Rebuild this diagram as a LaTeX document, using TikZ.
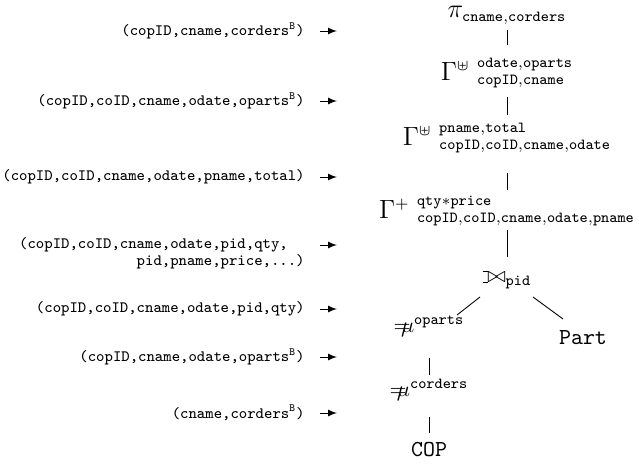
\documentclass[tikz,border=0pt]{standalone}
\DeclareMathSizes{13}{13}{7}{5}
\newcommand{\lojoinbar}{\setbox0=\hbox{$\bowtie$}\rule[-.02ex]{.25em}{.4pt}\llap{\rule[\ht0]{.25em}{.4pt}}}
\newcommand{\lojoin}{\mathbin{\lojoinbar\mkern-5.8mu\bowtie}}
\newcommand{\unnestop}{\mathord{=}\mkern-8mu\mu}
\begin{document}
\begin{tikzpicture}[x=0.016cm,y=-0.016cm,
		rel/.style={font=\fontsize{7.2}{8.6}\selectfont\ttfamily, anchor=east, inner xsep=6.8pt, inner ysep=1pt},
		op/.style={font=\fontsize{13}{15}\selectfont, inner sep=1pt},
		opsm/.style={font=\fontsize{10.4}{12}\selectfont, inner sep=1pt},
		feed/.style={-latex},
		link/.style={line width=0.4pt}]
			\useasboundingbox (0,0) rectangle (639,464);
			% operator tree
			\node [op] (proj) at (507,15) {$\pi_{\mathtt{cname,corders}}$};
			\node [op] (gcop) at (507,73) {$\Gamma^{\uplus}\mkern5mu{}^{\mathtt{odate,oparts}}_{\mathtt{copID,cname}}$};
			\node [op] (gord) at (507,138) {$\Gamma^{\uplus}\mkern5mu{}^{\mathtt{pname,total}}_{\mathtt{copID,coID,cname,odate}}$};
			\node [op] (gtot) at (507,211) {$\Gamma^{+}\mkern5mu{}^{\mathtt{qty*price}}_{\mathtt{copID,coID,cname,odate,pname}}$};
			\node [opsm] (join) at (507,280) {$\lojoin_{\mathtt{pid}}$};
			\node [opsm] (unop) at (429,326) {$\unnestop^{\mathtt{oparts}}$};
			\node [opsm] (part) at (583,338) {\texttt{Part}};
			\node [opsm] (unco) at (429,390) {$\unnestop^{\mathtt{corders}}$};
			\node [opsm] (cop) at (429,450) {\texttt{COP}};
			\draw [link, shorten <=6.8pt, shorten >=12.7pt] (proj.center) -- (gcop.center);
			\draw [link, shorten <=10.9pt, shorten >=10.5pt] (gcop.center) -- (gord.center);
			\draw [link, shorten <=15.9pt, shorten >=9.5pt] (gord.center) -- (gtot.center);
			\draw [link, shorten <=8.6pt, shorten >=10.5pt] (gtot.center) -- (join.center);
			\draw [link] ([shift={(-27,17)}]join.center) -- ([shift={(28,-11)}]unop.center);
			\draw [link] ([shift={(26,17)}]join.center) -- ([shift={(-20,-19)}]part.center);
			\draw [link, shorten <=14.5pt, shorten >=6.8pt] (unop.center) -- (unco.center);
			\draw [link, shorten <=12.3pt, shorten >=7.7pt] (unco.center) -- (cop.center);
			% schemas
			\node [rel] (rproj) at (320,31) {(copID,cname,corders$^{\mathtt{B}}$)};
			\node [rel] (rgcop) at (320,101) {(copID,coID,cname,odate,oparts$^{\mathtt{B}}$)};
			\node [rel] (rgord) at (320,177) {(copID,coID,cname,odate,pname,total)};
			\node [rel] (rgtot) at (320,245) {(copID,coID,cname,odate,pid,qty,\phantom{..}};
			\node [rel] (rgtotb) at (320,262) {pid,pname,price,...)};
			\node [rel] (rjoin) at (320,309) {(copID,coID,cname,odate,pid,qty)};
			\node [rel] (runop) at (320,357) {(copID,cname,odate,oparts$^{\mathtt{B}}$)};
			\node [rel] (runco) at (320,413) {(cname,corders$^{\mathtt{B}}$)};
			\draw [feed] (rproj.east) -- ++(17,0);
			\draw [feed] (rgcop.east) -- ++(17,0);
			\draw [feed] (rgord.east) -- ++(17,0);
			\draw [feed] (rgtot.east) -- ++(17,0);
			\draw [feed] (rjoin.east) -- ++(17,0);
			\draw [feed] (runop.east) -- ++(17,0);
			\draw [feed] (runco.east) -- ++(17,0);
		\end{tikzpicture}
\end{document}
